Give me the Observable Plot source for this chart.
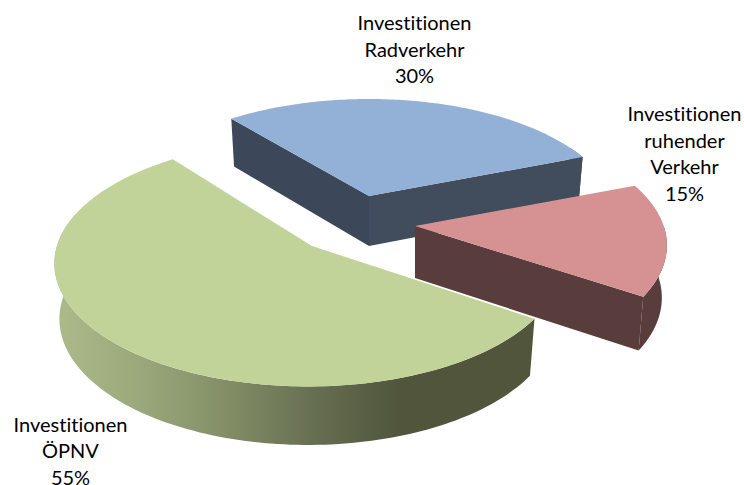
<!DOCTYPE html>
<html>
<head>
<meta charset="utf-8">
<script src="https://cdn.jsdelivr.net/npm/d3@7"></script>
<script src="https://cdn.jsdelivr.net/npm/@observablehq/plot@0.6"></script>
<style>
  html, body { margin: 0; padding: 0; background: #fff; }
  svg { display: block; }
  svg text { font-variant-ligatures: none; font-feature-settings: "liga" 0; }
</style>
</head>
<body>
<div id="chart"></div>
<script>
// Data
const categories = ["Investitionen Radverkehr", "Investitionen ruhender Verkehr", "Investitionen ÖPNV"];
const shares = [30, 15, 55];
const labelLines = [
  "Investitionen\nRadverkehr\n30%",
  "Investitionen\nruhender\nVerkehr\n15%",
  "Investitionen\nÖPNV\n55%"
];

// Look of the exploded 3D pie
const topColors = ["#93b0d6", "#d69292", "#c1d399"];
const radialColors = ["#3c4759", "#593c3c", "#50553c"];
const apexX = [369, 415, 312];
const apexY = [196, 226, 246];
const scaleX = [0.96, 0.983, 0.99];
const scaleY = [0.96, 1.015, 1.025];
const arcDx = [0, 0, -4];
const arcDy = [0, 0, -2];
const sliceTurn = [-1.5, -1, 0.6];
const sliceDepth = [50, 52, 55];
const labelX = [414, 684, 70];
const labelY = [48, 152, 449.5];
const firstAngle = -38, radius = 253, tilt = 0.4625, persp = 0.158, lowerShrink = 0.98, depthPersp = 0.06;

const rad = d => d * Math.PI / 180;
function pointAt(i, deg, lower) {
  const u = Math.sin(rad(deg)), v = -Math.cos(rad(deg));
  const w = radius / (1 - persp * v);
  const x = scaleX[i] * w * u, y = scaleY[i] * w * tilt * v;
  return lower
    ? {x: apexX[i] + arcDx[i] + lowerShrink * x, y: apexY[i] + arcDy[i] + y + sliceDepth[i] / (1 - depthPersp * v)}
    : {x: apexX[i] + arcDx[i] + x, y: apexY[i] + arcDy[i] + y};
}
const arc = (a, b) => d3.range(0, 121).map(k => a + (b - a) * k / 120);
const bounds = shares.map((d, i) => {
  const before = d3.sum(shares.slice(0, i));
  return [firstAngle + before * 3.6 + sliceTurn[i], firstAngle + (before + d) * 3.6 + sliceTurn[i]];
});

const ribbon = (i, angles) => angles.map(a => {
  const t = pointAt(i, a, false), b = pointAt(i, a, true);
  return {x1: t.x, y1: t.y, x2: b.x, y2: b.y};
});
const radial = (i, a) => {
  const t = pointAt(i, a, false), b = pointAt(i, a, true);
  return [
    {x1: apexX[i], y1: apexY[i], x2: apexX[i], y2: apexY[i] + sliceDepth[i]},
    {x1: t.x, y1: t.y, x2: b.x, y2: b.y}
  ];
};
const topFace = i => arc(bounds[i][0], bounds[i][1]).map(a => {
  const t = pointAt(i, a, false);
  return {x1: t.x, y1: t.y, x2: apexX[i], y2: apexY[i]};
});
const ch = {x1: "x1", y1: "y1", x2: "x2", y2: "y2"};

const gradient = () => {
  const svgNS = "http://www.w3.org/2000/svg";
  const defs = document.createElementNS(svgNS, "defs");
  const g = document.createElementNS(svgNS, "linearGradient");
  g.setAttribute("id", "greenSide");
  g.setAttribute("gradientUnits", "userSpaceOnUse");
  g.setAttribute("x1", 55); g.setAttribute("x2", 535);
  g.setAttribute("y1", 0); g.setAttribute("y2", 0);
  [[0, "#adba8a"], [0.2, "#98a578"], [0.38, "#7f8a63"], [0.55, "#656d50"], [0.72, "#50553c"], [1, "#50553c"]].forEach(([o, c]) => {
    const s = document.createElementNS(svgNS, "stop");
    s.setAttribute("offset", o); s.setAttribute("stop-color", c);
    g.appendChild(s);
  });
  defs.appendChild(g);
  return defs;
};

const [B, R, G] = [0, 1, 2];
const chart = Plot.plot({
  width: 744, height: 485, margin: 0,
  x: {domain: [0, 744], range: [0, 744], axis: null},
  y: {domain: [0, 485], range: [0, 485], axis: null},
  marks: [
    gradient,
    // Radverkehr
    Plot.area(radial(B, bounds[B][0]), {...ch, fill: radialColors[B]}),
    Plot.area(radial(B, bounds[B][1]), {...ch, fill: "#414c5c"}),
    Plot.area(ribbon(B, arc(bounds[B][1] - 6, bounds[B][1])), {...ch, fill: "#414c5c"}),
    Plot.area(topFace(B), {...ch, fill: topColors[B]}),
    // ÖPNV
    Plot.area(ribbon(G, arc(bounds[G][0], 285)), {...ch, fill: "url(#greenSide)"}),
    Plot.area(topFace(G), {...ch, fill: topColors[G]}),
    // ruhender Verkehr
    Plot.area(radial(R, bounds[R][1]), {...ch, fill: radialColors[R]}),
    Plot.area(ribbon(R, arc(90, bounds[R][1])), {...ch, fill: radialColors[R]}),
    Plot.area(topFace(R), {...ch, fill: topColors[R]}),
    // labels
    Plot.text(labelLines, {
      x: (d, i) => labelX[i], y: (d, i) => labelY[i], text: d => d,
      fontFamily: "Lato", fontSize: 20, lineHeight: 1.325, fill: "#000", textAnchor: "middle", lineAnchor: "middle"
    })
  ]
});
document.getElementById("chart").appendChild(chart);
</script>
</body>
</html>
